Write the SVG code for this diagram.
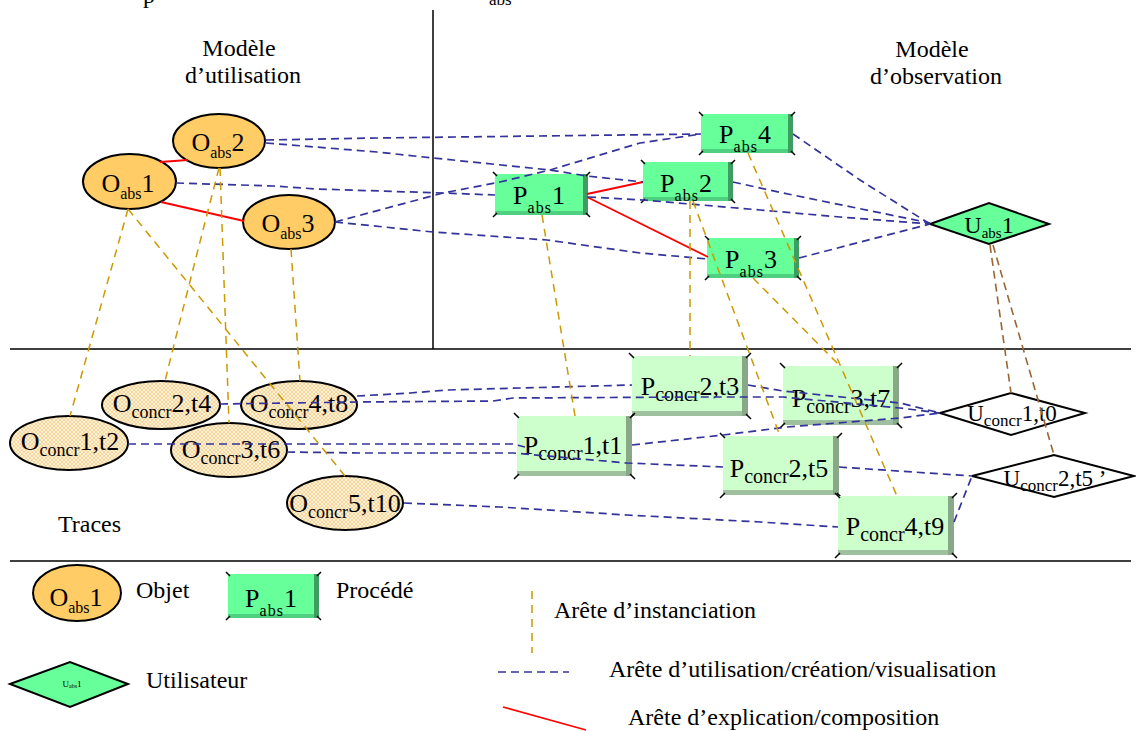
<svg xmlns="http://www.w3.org/2000/svg" width="1136" height="731" viewBox="0 0 1136 731">
<defs>
<pattern id="hatch" width="4" height="4" patternUnits="userSpaceOnUse"><rect width="4" height="4" fill="#FFF3DA"/><path d="M0,0L4,4M4,0L0,4" stroke="#F3C77E" stroke-width="0.7"/></pattern>
<style>
text{font-family:"Liberation Serif","Times New Roman",serif;fill:#000}
.t24{font-size:24px}
.n{font-size:26px}
.u{font-size:23px}
.s16{font-size:16px}
.s18{font-size:18px}
.s20{font-size:20px}
.oa{fill:#FFCC66;stroke:#000;stroke-width:2}
.oc{fill:url(#hatch);stroke:#000;stroke-width:2}
.pa{fill:#66FF99}
.par{fill:#3E9E62}
.pab{fill:#4FD080}
.pc{fill:#CCFFCC}
.pcr{fill:#88A888}
.pcb{fill:#9FC09F}
.tick{stroke:#000;stroke-width:1.5;fill:none}
.ua{fill:#66FF99;stroke:#000;stroke-width:2}
.uc{fill:#fff;stroke:#000;stroke-width:2}
.blue{fill:none;stroke:#333399;stroke-width:1.7;stroke-dasharray:8 5}
.or{fill:none;stroke:#CC9900;stroke-width:1.5;stroke-dasharray:8 6}
.br{fill:none;stroke:#996633;stroke-width:1.6;stroke-dasharray:8 5}
.red{fill:none;stroke:#FF0000;stroke-width:1.8}
.rule{stroke:#000;stroke-width:1.5;fill:none}
</style>
</defs>
<rect width="1136" height="731" fill="#fff"/>

<g id="frame">
<path class="rule" d="M433,10V349M10,349H1131M10,561H1131"/>
<text class="t24" x="143" y="3">p</text>
<text x="489" y="5" font-size="17">abs</text>
<text class="t24" x="239" y="56" text-anchor="middle">Modèle</text>
<text class="t24" x="243" y="83" text-anchor="middle">d’utilisation</text>
<text class="t24" x="932" y="57" text-anchor="middle">Modèle</text>
<text class="t24" x="936" y="84" text-anchor="middle">d’observation</text>
<text class="t24" x="58" y="532">Traces</text>
</g>

<g id="O_abs1"><ellipse class="oa" cx="129.5" cy="181.5" rx="46.5" ry="27.5"/><text class="n" x="128" y="192" text-anchor="middle">O<tspan class="s16" dy="7">abs</tspan><tspan dy="-7">1</tspan></text></g>
<g id="O_abs2"><ellipse class="oa" cx="219" cy="141" rx="46" ry="27"/><text class="n" x="218" y="151" text-anchor="middle">O<tspan class="s16" dy="7">abs</tspan><tspan dy="-7">2</tspan></text></g>
<g id="O_abs3"><ellipse class="oa" cx="289" cy="222" rx="46" ry="27"/><text class="n" x="288" y="232" text-anchor="middle">O<tspan class="s16" dy="7">abs</tspan><tspan dy="-7">3</tspan></text></g>

<g id="P_abs4"><rect class="pa" x="701" y="114" width="92" height="39"/><rect class="par" x="788" y="114" width="5" height="39"/><rect class="pab" x="701" y="149" width="87" height="4"/><path class="tick" d="M699,112l4,4M795,112l-4,4M699,155l4,-4M795,155l-4,-4"/><text class="n" x="745" y="143" text-anchor="middle">P<tspan class="s16" dy="9" letter-spacing="1">abs</tspan><tspan dy="-9">4</tspan></text></g>
<g id="P_abs2"><rect class="pa" x="643" y="162" width="90" height="39"/><rect class="par" x="728" y="162" width="5" height="39"/><rect class="pab" x="643" y="197" width="85" height="4"/><path class="tick" d="M641,160l4,4M735,160l-4,4M641,203l4,-4M735,203l-4,-4"/><text class="n" x="686" y="192" text-anchor="middle">P<tspan class="s16" dy="9" letter-spacing="1">abs</tspan><tspan dy="-9">2</tspan></text></g>
<g id="P_abs1"><rect class="pa" x="495" y="174" width="93" height="41"/><rect class="par" x="583" y="174" width="5" height="41"/><rect class="pab" x="495" y="211" width="88" height="4"/><path class="tick" d="M493,172l4,4M590,172l-4,4M493,217l4,-4M590,217l-4,-4"/><text class="n" x="539" y="204" text-anchor="middle">P<tspan class="s16" dy="9" letter-spacing="1">abs</tspan><tspan dy="-9">1</tspan></text></g>
<g id="P_abs3"><rect class="pa" x="707" y="238" width="92" height="40"/><rect class="par" x="794" y="238" width="5" height="40"/><rect class="pab" x="707" y="274" width="87" height="4"/><path class="tick" d="M705,236l4,4M801,236l-4,4M705,280l4,-4M801,280l-4,-4"/><text class="n" x="751" y="268" text-anchor="middle">P<tspan class="s16" dy="9" letter-spacing="1">abs</tspan><tspan dy="-9">3</tspan></text></g>

<g id="U_abs1"><polygon class="ua" points="930,224 989,203 1049,224 989,244"/><text class="t24" x="989" y="233" text-anchor="middle">U<tspan font-size="15" dy="5">abs</tspan><tspan dy="-5">1</tspan></text></g>

<g id="O_concr2_t4"><ellipse class="oc" cx="161" cy="405" rx="59" ry="24"/><text class="n" x="162" y="412" text-anchor="middle">O<tspan class="s18" dy="6">concr</tspan><tspan dy="-6">2,t4</tspan></text></g>
<g id="O_concr4_t8"><ellipse class="oc" cx="299" cy="405" rx="58" ry="24"/><text class="n" x="299" y="412" text-anchor="middle">O<tspan class="s18" dy="6">concr</tspan><tspan dy="-6">4,t8</tspan></text></g>
<g id="O_concr1_t2"><ellipse class="oc" cx="69" cy="443" rx="59" ry="27"/><text class="n" x="70" y="450" text-anchor="middle">O<tspan class="s18" dy="6">concr</tspan><tspan dy="-6">1,t2</tspan></text></g>
<g id="O_concr3_t6"><ellipse class="oc" cx="229" cy="450" rx="58" ry="27"/><text class="n" x="231" y="458" text-anchor="middle">O<tspan class="s18" dy="6">concr</tspan><tspan dy="-6">3,t6</tspan></text></g>
<g id="O_concr5_t10"><ellipse class="oc" cx="345" cy="503" rx="58" ry="27"/><text class="n" x="345" y="512" text-anchor="middle">O<tspan class="s18" dy="6">concr</tspan><tspan dy="-6">5,t10</tspan></text></g>

<g id="P_concr2_t3"><rect class="pc" x="632" y="356" width="116" height="60"/><rect class="pcr" x="742" y="356" width="6" height="60"/><rect class="pcb" x="632" y="411" width="110" height="5"/><path class="tick" d="M629,353l5,5M751,353l-5,5M629,419l5,-5M751,419l-5,-5"/><text class="n" x="690" y="395" text-anchor="middle">P<tspan class="s20" dy="6">concr</tspan><tspan dy="-6">2,t3</tspan></text></g>
<g id="P_concr1_t1"><rect class="pc" x="517" y="416" width="115" height="60"/><rect class="pcr" x="626" y="416" width="6" height="60"/><rect class="pcb" x="517" y="471" width="109" height="5"/><path class="tick" d="M514,413l5,5M635,413l-5,5M514,479l5,-5M635,479l-5,-5"/><text class="n" x="573" y="454" text-anchor="middle">P<tspan class="s20" dy="6">concr</tspan><tspan dy="-6">1,t1</tspan></text></g>
<g id="P_concr3_t7"><rect class="pc" x="783" y="366" width="116" height="59"/><rect class="pcr" x="893" y="366" width="6" height="59"/><rect class="pcb" x="783" y="420" width="110" height="5"/><path class="tick" d="M780,363l5,5M902,363l-5,5M780,428l5,-5M902,428l-5,-5"/><text class="n" x="841" y="407" text-anchor="middle">P<tspan class="s20" dy="6">concr</tspan><tspan dy="-6">3,t7</tspan></text></g>
<g id="P_concr2_t5"><rect class="pc" x="723" y="436" width="116" height="59"/><rect class="pcr" x="833" y="436" width="6" height="59"/><rect class="pcb" x="723" y="490" width="110" height="5"/><path class="tick" d="M720,433l5,5M842,433l-5,5M720,498l5,-5M842,498l-5,-5"/><text class="n" x="779" y="477" text-anchor="middle">P<tspan class="s20" dy="6">concr</tspan><tspan dy="-6">2,t5</tspan></text></g>
<g id="P_concr4_t9"><rect class="pc" x="838" y="496" width="116" height="59"/><rect class="pcr" x="948" y="496" width="6" height="59"/><rect class="pcb" x="838" y="550" width="110" height="5"/><path class="tick" d="M835,493l5,5M957,493l-5,5M835,558l5,-5M957,558l-5,-5"/><text class="n" x="895" y="535" text-anchor="middle">P<tspan class="s20" dy="6">concr</tspan><tspan dy="-6">4,t9</tspan></text></g>

<g id="U_concr1_t0"><polygon class="uc" points="940,413 1011,393 1085,413 1011,435"/><text class="u" x="1012" y="421" text-anchor="middle">U<tspan font-size="17" dy="5">concr</tspan><tspan dy="-5">1,t0</tspan></text></g>
<g id="U_concr2_t5p"><polygon class="uc" points="972,476 1054,455 1134,476 1054,497"/><text class="u" x="1055" y="486" text-anchor="middle">U<tspan font-size="17" dy="5">concr</tspan><tspan dy="-5">2,t5 ’</tspan></text></g>

<g id="connectors">
<path class="red" d="M160,162L188,160M161,202L244,221M587,194L643,182M587,197L708,257"/>
<path class="blue" d="M266,140L377,138L701,134"/>
<path class="blue" d="M266,143L377,152L433,158L550,170L587,176L643,182"/>
<path class="blue" d="M176,183L273,186L317,189L443,193L495,195"/>
<path class="blue" d="M335,222L443,193L500,182L550,170L640,143L701,134"/>
<path class="blue" d="M335,222L433,232L547,240L640,253L708,259"/>
<path class="blue" d="M793,134L860,180L930,224"/>
<path class="blue" d="M733,182L783,193L930,223"/>
<path class="blue" d="M588,197L643,200L760,210L840,217L930,224"/>
<path class="blue" d="M799,258L930,224"/>
<path class="blue" d="M220,404L357,402L493,401L513,398L700,397L783,397L900,408L940,413"/>
<path class="blue" d="M357,396L410,393L447,390L632,385"/>
<path class="blue" d="M748,385L783,391L900,403L940,413"/>
<path class="blue" d="M128,444L513,444L525,447"/>
<path class="blue" d="M287,452L360,453L513,453L627,463L723,467"/>
<path class="blue" d="M632,445L723,435L787,427L900,418L940,413"/>
<path class="blue" d="M404,503L500,507L627,515L760,522L838,527"/>
<path class="blue" d="M839,467L972,476"/>
<path class="blue" d="M954,522L972,476"/>
<path class="or" d="M128,209L70,416"/>
<path class="or" d="M128,209L345,476"/>
<path class="or" d="M219,168Q190,280 165,381"/>
<path class="or" d="M220,168L229,423"/>
<path class="or" d="M291,249L300,381"/>
<path class="or" d="M542,215L575,416"/>
<path class="or" d="M690,201L690,356"/>
<path class="or" d="M693,201L780,436"/>
<path class="or" d="M748,153L897,496"/>
<path class="or" d="M753,278L840,366"/>
<path class="br" d="M990,245L1011,393"/>
<path class="br" d="M993,245L1054,455"/>
</g>

<g id="legend">
<ellipse class="oa" cx="77" cy="593" rx="44" ry="28"/>
<text class="n" x="76" y="606" text-anchor="middle">O<tspan class="s16" dy="7">abs</tspan><tspan dy="-7">1</tspan></text>
<text class="t24" x="136" y="598">Objet</text>
<rect class="pa" x="228" y="574" width="91" height="44"/><rect class="par" x="314" y="574" width="5" height="44"/><rect class="pab" x="228" y="614" width="86" height="4"/>
<path class="tick" d="M226,572l4,4M321,572l-4,4M226,620l4,-4M321,620l-4,-4"/>
<text class="n" x="271" y="607" text-anchor="middle">P<tspan class="s16" dy="9" letter-spacing="1">abs</tspan><tspan dy="-9">1</tspan></text>
<text class="t24" x="336" y="598">Procédé</text>
<polygon class="ua" points="10,684 70,662 128,684 70,707"/>
<text x="72" y="687" font-size="9" text-anchor="middle">U<tspan font-size="6" dy="1">abs</tspan><tspan dy="-1">1</tspan></text>
<text class="t24" x="146" y="688">Utilisateur</text>
<path class="or" d="M532,591V653"/>
<path class="blue" d="M498,672H569"/>
<path class="red" d="M503,707L586,730"/>
<text class="t24" x="554" y="618">Arête d’instanciation</text>
<text class="t24" x="609" y="677">Arête d’utilisation/création/visualisation</text>
<text class="t24" x="628" y="725">Arête d’explication/composition</text>
</g>
</svg>
